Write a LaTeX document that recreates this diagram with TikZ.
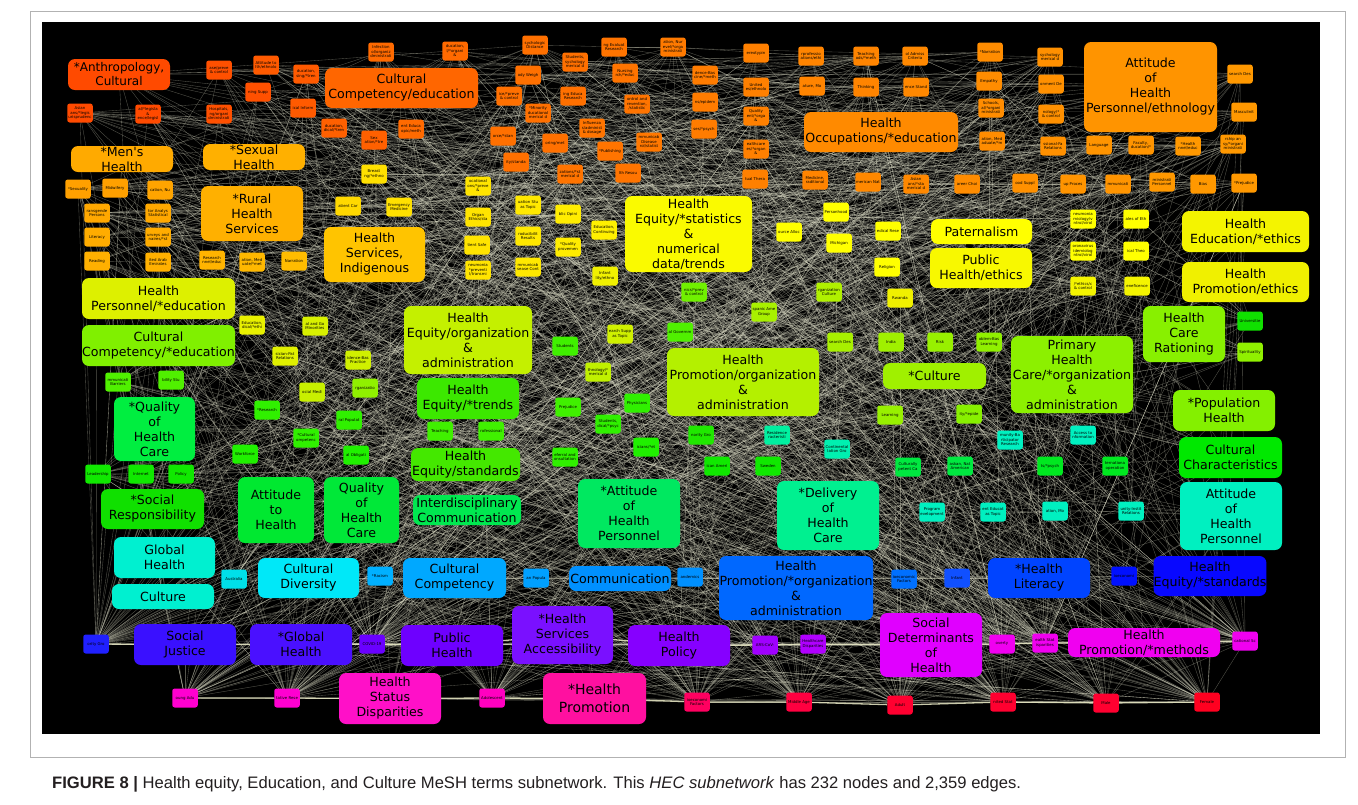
\documentclass[tikz,border=0pt]{standalone}
\usepackage{fontspec}
\newfontfamily\nodefont{DejaVu Sans}
\newfontfamily\capfont{Liberation Sans}
\pgfdeclarelayer{bgl}\pgfdeclarelayer{edl}
\pgfsetlayers{bgl,edl,main}
\newcounter{nd}
\definecolor{edgec}{RGB}{228,228,205}
\definecolor{chainc}{RGB}{225,225,190}
\definecolor{capc}{RGB}{35,31,32}
\tikzset{
 sm/.style={rounded corners=2.5pt, minimum width=25.5pt, minimum height=19pt, inner sep=0.3pt, align=center, font=\nodefont\fontsize{3.9}{4.5}\selectfont, text=black},
 big/.style={rounded corners=7pt, inner sep=0pt, align=center, font=\nodefont\fontsize{12.6}{15}\selectfont, text=black},
 edge/.style={draw=edgec, draw opacity=0.38, line width=0.35pt},
 chainln/.style={draw=chainc, line width=1.3pt, draw opacity=0.9},
}
\newcommand\SN[5]{\stepcounter{nd}\edef\ndn{n\arabic{nd}}\definecolor{tmpc}{HTML}{#4}%
 \node[sm, fill=tmpc, alias=\ndn] (#1) at (#2,#3) {#5};}
\newcommand\BN[8][]{\stepcounter{nd}\edef\ndn{n\arabic{nd}}\definecolor{tmpc}{HTML}{#7}%
 \pgfmathsetmacro\cx{(#3+#5)/2}\pgfmathsetmacro\cy{(#4+#6)/2}%
 \pgfmathsetmacro\ww{#5-#3}\pgfmathsetmacro\hh{#6-#4}%
 \node[big, fill=tmpc, minimum width=\ww pt, minimum height=\hh pt, alias=\ndn, #1] (#2) at (\cx,\cy) {#8};}
\begin{document}
\begin{tikzpicture}[x=1pt,y=-1pt]
\useasboundingbox (0,0) rectangle (1358,804);
\begin{pgfonlayer}{bgl}
\fill[white] (0,0) rectangle (1358,804);
\draw[black!30, line width=0.8pt] (30,11) rectangle (1345,757);
\fill[black] (42,22) rectangle (1320,734);
\end{pgfonlayer}
% ---------- small nodes ----------
\SN{s1}{219}{70}{FF5000}{ase/preve\\\& control}
\SN{s2}{266}{65}{FF5A00}{Attitude to\\lth/ethnolo}
\SN{s3}{306}{74}{FF5A00}{ducation,\\sing/*tren}
\SN{s4}{258}{92}{FF5000}{ning Supp}
\SN{s5}{80}{113}{FF4A00}{Asian\\ans/*legis\\urisprudenc}
\SN{s6}{148}{114}{FF4A00}{al/*legisla\\\&\\ence/legisl}
\SN{s7}{219}{114}{FF5000}{Hospitals,\\ng/organi\\dministrati}
\SN{s8}{303}{108}{FF5A00}{ical Inform}
\SN{s9}{334}{128}{FF6000}{ducation,\\dical/*tren}
\SN{s10}{374}{140}{FF6000}{Sex\\ation/*tre}
\SN{s11}{381}{52}{FF6A00}{Infection\\ol/organiz\\dministrati}
\SN{s12}{455}{51}{FF6A00}{ducation,\\l/*organi\\\&}
\SN{s13}{535}{45}{FF7000}{sychologic\\Distance}
\SN{s14}{528}{75}{FF7000}{ody Weigh}
\SN{s15}{575}{62}{FF7000}{Students,\\sychology\\merical d}
\SN{s16}{614}{47}{FF7400}{ng Evaluat\\Research}
\SN{s17}{673}{47}{FF7A00}{ation, Nur\\evel/*orga\\ministrati}
\SN{s18}{625}{73}{FF7400}{Nursing\\rch/*educ}
\SN{s19}{509}{96}{FF7000}{ice/*preve\\\& control}
\SN{s20}{538}{113}{FF7000}{*Minority\\ducational\\merical d}
\SN{s21}{573}{96}{FF7000}{ing Educa\\Research}
\SN{s22}{637}{104}{FF7400}{ontrol and\\revention,\\/statistic}
\SN{s23}{411}{129}{FF6A00}{ent Educa\\opic/meth}
\SN{s24}{592}{128}{FF7400}{Influenza\\s/administ\\\& dosage}
\SN{s25}{503}{136}{FF7000}{orce/*stan}
\SN{s26}{555}{143}{FF7000}{oring/met}
\SN{s27}{649}{142}{FF7800}{mmunicab\\Disease\\rol/statist}
\SN{s28}{610}{151}{FF7400}{*Publishing}
\SN{s29}{516}{162}{FF7000}{ity/standa}
\SN{s30}{570}{174}{FF7400}{zations/*st\\merical d}
\SN{s31}{628}{173}{FF7400}{lth Resou}
\SN{s32}{756}{53}{FF8000}{ereotypin}
\SN{s33}{811}{56}{FF8400}{rprofessio\\ations/ethi}
\SN{s34}{866}{56}{FF8400}{Teaching\\ods/*meth}
\SN{s35}{915}{56}{FF8800}{ol Admiss\\Criteria}
\SN{s36}{990}{52}{FF8C00}{*Narration}
\SN{s37}{705}{75}{FF7C00}{dence-Bas\\cine/*meth}
\SN{s38}{756}{87}{FF8000}{United\\es/ethnolo}
\SN{s39}{812}{86}{FF8400}{ature, Mo}
\SN{s40}{866}{87}{FF8400}{Thinking}
\SN{s41}{916}{87}{FF8800}{ence Stand}
\SN{s42}{989}{81}{FF8C00}{Empathy}
\SN{s43}{705}{102}{FF7C00}{ns/epidem}
\SN{s44}{756}{116}{FF8000}{Quality\\ent/*orga\\\&}
\SN{s45}{991}{108}{FF8C00}{Schools,\\al/*organi\\ministrati}
\SN{s46}{704}{129}{FF7C00}{ses/*psych}
\SN{s47}{756}{149}{FF8000}{ealthcare\\es/*organ\\\&}
\SN{s48}{992}{141}{FF8C00}{ation, Med\\aduate/*m}
\SN{s49}{755}{179}{FF8000}{tual Thera}
\SN{s50}{815}{180}{FF8400}{Medicine,\\raditional}
\SN{s51}{868}{182}{FF8800}{merican Nat}
\SN{s52}{916}{184}{FF8800}{Asian\\ans/*sta\\merical d}
\SN{s53}{967}{184}{FF8C00}{areer Choi}
\SN{s54}{1050}{57}{FF9000}{sychology\\merical d}
\SN{s55}{1051}{84}{FF9000}{onment De}
\SN{s56}{1051}{114}{FF9000}{nology/*\\\& control}
\SN{s57}{1053}{146}{FF9000}{ssional-Fa\\Relations}
\SN{s58}{1240}{74}{FF9800}{search Des}
\SN{s59}{1244}{112}{FF9800}{Masculinit}
\SN{s60}{1099}{145}{FF9400}{Language}
\SN{s61}{1141}{145}{FF9400}{Faculty,\\ducation/*}
\SN{s62}{1188}{146}{FF9800}{*Health\\nnel/educ}
\SN{s63}{1233}{144}{FF9800}{rship an\\sy/*organi\\ministrati}
\SN{s64}{1025}{183}{FF9000}{ood Suppl}
\SN{s65}{1073}{184}{FF9400}{up Proces}
\SN{s66}{1118}{184}{FF9400}{mmunicati}
\SN{s67}{1162}{182}{FF9800}{ministrati\\Personnel}
\SN{s68}{1203}{184}{FF9800}{Bias}
\SN{s69}{1244}{183}{FF9800}{*Prejudice}
\SN{s70}{78}{189}{FFA000}{*Sexuality}
\SN{s71}{115}{188}{FFA000}{Midwifery}
\SN{s72}{160}{190}{FFA400}{cation, Nu}
\SN{s73}{97}{213}{FFA800}{ransgende\\Persons}
\SN{s74}{158}{213}{FFA800}{tor Analys\\Statistical}
\SN{s75}{97}{237}{FFAC00}{Literacy}
\SN{s76}{158}{237}{FFAC00}{urveys and\\naires/*st}
\SN{s77}{97}{261}{FFB000}{Reading}
\SN{s78}{158}{262}{FFB000}{ited Arab\\Emirates}
\SN{s79}{212}{260}{FFB400}{Research\\nnel/educ}
\SN{s80}{252}{262}{FFB800}{ation, Med\\uate/*met}
\SN{s81}{294}{261}{FFBC00}{Narration}
\SN{s82}{348}{206}{FFD800}{atient Car}
\SN{s83}{374}{174}{FFE000}{Breast\\ng/*ethno}
\SN{s84}{399}{207}{FFE000}{Emergency\\Medicine}
\SN{s85}{478}{186}{FFE400}{ocational\\ons/*preve\\\&}
\SN{s86}{528}{205}{FFE800}{uation Stu\\as Topic}
\SN{s87}{568}{214}{FFEC00}{blic Opini}
\SN{s88}{478}{217}{FFE400}{Organ\\Ethics/sta}
\SN{s89}{604}{230}{FFF000}{Education,\\Continuing}
\SN{s90}{528}{236}{FFE800}{roducibilit\\Results}
\SN{s91}{568}{247}{FFEC00}{*Quality\\provemen}
\SN{s92}{477}{245}{FFE400}{tient Safe}
\SN{s93}{478}{270}{FFE400}{neumonia\\*preventi\\l/transmi}
\SN{s94}{528}{267}{FFE800}{mmunicab\\sease Cont}
\SN{s95}{605}{276}{F0F000}{Infant\\lity/ethno}
\SN{s96}{836}{212}{FFFF00}{Personhood}
\SN{s97}{789}{232}{FFFF00}{ource Alloc}
\SN{s98}{839}{243}{FFFF00}{Michigan}
\SN{s99}{888}{231}{FFFF00}{edical Rese}
\SN{s100}{887}{267}{FFFF00}{Religion}
\SN{s101}{1083}{219}{FFFF00}{neumonia\\miology/v\\ntrol/virol}
\SN{s102}{1083}{251}{FFFF00}{oronavirus\\idemiolog\\ntrol/virol}
\SN{s103}{1136}{219}{FFFF00}{ales of Eth}
\SN{s104}{1136}{251}{FFFF00}{ical Theo}
\SN{s105}{1083}{286}{F4F400}{/*ethics/c\\\& control}
\SN{s106}{1137}{286}{F4F400}{eneficence}
\SN{s107}{900}{298}{F0F000}{Rwanda}
\SN{s108}{252}{325}{E8F000}{Education,\\dical/*ethi}
\SN{s109}{315}{326}{D8F000}{al and Go\\Minorities}
\SN{s110}{285}{356}{E0F000}{sician-Pat\\Relations}
\SN{s111}{358}{360}{D0F000}{idence-Bas\\Practice}
\SN{s112}{312}{392}{C8F000}{ocial Medi}
\SN{s113}{365}{388}{90F000}{rganizatio}
\SN{s114}{620}{334}{D0F000}{earch Supp\\as Topic}
\SN{s115}{598}{372}{C0F000}{thnology/*\\merical d}
\SN{s116}{829}{292}{B0F000}{rganization\\Culture}
\SN{s117}{764}{312}{A8F000}{spanic Ame\\Group}
\SN{s118}{694}{292}{70F000}{nics/*prev\\\& control}
\SN{s119}{680}{332}{50F000}{al Governm}
\SN{s120}{840}{342}{A8F000}{search Des}
\SN{s121}{891}{342}{A0F000}{India}
\SN{s122}{940}{342}{98F000}{Risk}
\SN{s123}{989}{342}{90F000}{oblem-Bas\\Learning}
\SN{s124}{890}{415}{98F000}{Learning}
\SN{s125}{969}{414}{88F000}{ity/*epide}
\SN{s126}{1250}{321}{10E000}{Universitie}
\SN{s127}{1250}{352}{90F000}{Spirituality}
\SN{s128}{118}{382}{50F000}{mmunicati\\Barriers}
\SN{s129}{171}{380}{50F000}{bility Stu}
\SN{s130}{267}{410}{30F000}{*Research}
\SN{s131}{349}{420}{30F000}{ral Populat}
\SN{s132}{306}{438}{30F000}{*Cultural\\ompetenc}
\SN{s133}{245}{454}{20F000}{Workforce}
\SN{s134}{356}{455}{20F000}{al Obligati}
\SN{s135}{98}{474}{10E800}{Leadership}
\SN{s136}{141}{474}{10E800}{Internet}
\SN{s137}{181}{474}{10E800}{Policy}
\SN{s138}{565}{346}{40F000}{Students}
\SN{s139}{568}{407}{40F000}{Prejudice}
\SN{s140}{637}{403}{30F000}{Physicians}
\SN{s141}{608}{424}{30F000}{Students,\\dical/*psyc}
\SN{s142}{440}{431}{40F000}{Teaching}
\SN{s143}{491}{431}{40F000}{rofessional}
\SN{s144}{565}{457}{30F000}{eferral and\\onsultation}
\SN{s145}{646}{447}{20F000}{icians/*et}
\SN{s146}{701}{435}{20E800}{nority Gro}
\SN{s147}{777}{435}{00F0A0}{Residence\\racteristi}
\SN{s148}{837}{449}{00F0B0}{Continental\\lation Gro}
\SN{s149}{717}{466}{10E800}{ican Ameri}
\SN{s150}{768}{466}{10E800}{Sweden}
\SN{s151}{908}{467}{00E840}{Culturally\\petent Ca}
\SN{s152}{960}{466}{00E840}{askan, Nat\\American}
\SN{s153}{1010}{440}{00F0C0}{munity-Ba\\rticipator\\Research}
\SN{s154}{1083}{435}{00F0C0}{Access to\\nformation}
\SN{s155}{1050}{466}{00E820}{ts/*psych}
\SN{s156}{1115}{466}{00E820}{ternationa\\operation}
\SN{s157}{932}{512}{00F0C0}{Program\\evelopment}
\SN{s158}{993}{512}{00F0C0}{ent Educat\\as Topic}
\SN{s159}{1055}{511}{00F0C0}{ation, Mo}
\SN{s160}{1131}{511}{00F0C0}{unity-Instit\\Relations}
\SN{s161}{234}{579}{00E0E8}{Australia}
\SN{s162}{380}{576}{00B0FF}{*Racism}
\SN{s163}{536}{578}{00A0FF}{an Popula}
\SN{s164}{690}{577}{0090FF}{andemics}
\SN{s165}{904}{579}{0070FF}{ioeconomic\\Factors}
\SN{s166}{957}{578}{1050FF}{Infant}
\SN{s167}{1124}{576}{0010FF}{ioeconomi}
\SN{s168}{96}{644}{2020FF}{ority Gro}
\SN{s169}{372}{644}{6A00FF}{COVID-19}
\SN{s170}{765}{645}{A000FF}{ARS-CoV-}
\SN{s171}{813}{644}{B000FF}{Healthcare\\Disparities}
\SN{s172}{1002}{644}{F000F0}{overty}
\SN{s173}{1045}{643}{F000F0}{ealth Stat\\isparities}
\SN{s174}{1245}{641}{F000F0}{cational Sc}
\SN{s175}{185}{698}{FF00D0}{oung Adu}
\SN{s176}{287}{698}{FF00D0}{tative Rese}
\SN{s177}{492}{698}{FF00C0}{Adolescent}
\SN{s178}{697}{702}{FF0060}{ioeconomi\\Factors}
\SN{s179}{799}{702}{FF0040}{Middle Age}
\SN{s180}{900}{705}{FF0030}{Adult}
\SN{s181}{1003}{702}{FF0030}{nited Stat}
\SN{s182}{1106}{703}{FF0030}{Male}
\SN{s183}{1207}{702}{FF0020}{Female}
% ---------- big nodes ----------
\BN[font=\nodefont\fontsize{12}{14}\selectfont]{b1}{68}{59}{170}{90}{FF4A00}{*Anthropology,\\Cultural}
\BN{b2}{325}{68}{478}{108}{FF6600}{Cultural\\Competency/education}
\BN{b3}{804}{112}{958}{152}{FF8A00}{Health\\Occupations/*education}
\BN{b4}{1084}{42}{1217}{132}{FF9400}{Attitude\\of\\Health\\Personnel/ethnology}
\BN{b5}{71}{146}{173}{172}{FFAA00}{*Men's\\Health}
\BN{b6}{203}{144}{305}{170}{FFB000}{*Sexual\\Health}
\BN{b7}{201}{186}{303}{241}{FFB000}{*Rural\\Health\\Services}
\BN{b8}{324}{227}{425}{282}{FFC400}{Health\\Services,\\Indigenous}
\BN{b9}{625}{196}{752}{272}{FAFA00}{Health\\Equity/*statistics\\\&\\numerical\\data/trends}
\BN{b10}{931}{219}{1032}{244}{FFFF00}{Paternalism}
\BN{b11}{930}{248}{1032}{288}{F8F800}{Public\\Health/ethics}
\BN{b12}{1182}{211}{1309}{252}{F4F400}{Health\\Education/*ethics}
\BN{b13}{1182}{262}{1309}{302}{F0F000}{Health\\Promotion/ethics}
\BN{b14}{82}{278}{235}{319}{DDF000}{Health\\Personnel/*education}
\BN{b15}{82}{325}{235}{366}{80F000}{Cultural\\Competency/*education}
\BN{b16}{404}{306}{532}{374}{C4F000}{Health\\Equity/organization\\\&\\administration}
\BN{b17}{667}{348}{819}{416}{B4F000}{Health\\Promotion/organization\\\&\\administration}
\BN{b18}{1011}{336}{1133}{413}{8CF000}{Primary\\Health\\Care/*organization\\\&\\administration}
\BN{b19}{1143}{306}{1225}{362}{88F000}{Health\\Care\\Rationing}
\BN{b20}{883}{363}{986}{389}{A0F000}{*Culture}
\BN{b21}{1173}{390}{1275}{431}{84F000}{*Population\\Health}
\BN{b22}{417}{378}{519}{419}{3CE800}{Health\\Equity/*trends}
\BN{b23}{411}{448}{520}{481}{44E800}{Health\\Equity/standards}
\BN{b24}{114}{397}{195}{461}{00EE40}{*Quality\\of\\Health\\Care}
\BN{b25}{101}{489}{204}{529}{10E000}{*Social\\Responsibility}
\BN{b26}{238}{477}{314}{543}{00E830}{Attitude\\to\\Health}
\BN{b27}{324}{477}{399}{543}{00E838}{Quality\\of\\Health\\Care}
\BN{b28}{413}{495}{521}{525}{00E850}{Interdisciplinary\\Communication}
\BN{b29}{578}{479}{680}{548}{00E860}{*Attitude\\of\\Health\\Personnel}
\BN{b30}{777}{481}{879}{550}{00F090}{*Delivery\\of\\Health\\Care}
\BN{b31}{1179}{437}{1282}{478}{00E800}{Cultural\\Characteristics}
\BN{b32}{1180}{482}{1282}{550}{00F0C0}{Attitude\\of\\Health\\Personnel}
\BN{b33}{114}{537}{215}{578}{00F0D0}{Global\\Health}
\BN{b34}{112}{584}{214}{609}{00F0D0}{Culture}
\BN{b35}{258}{558}{359}{598}{00E8F8}{Cultural\\Diversity}
\BN{b36}{403}{558}{506}{598}{00A8FF}{Cultural\\Competency}
\BN{b37}{569}{566}{671}{591}{0090FF}{Communication}
\BN{b38}{719}{556}{873}{620}{0068FF}{Health\\Promotion/*organization\\\&\\administration}
\BN{b39}{988}{558}{1090}{598}{0044FF}{*Health\\Literacy}
\BN{b40}{1159}{556}{1261}{596}{0808FF}{Health\\Equity/*standards}
\BN{b41}{134}{624}{236}{665}{3A10FF}{Social\\Justice}
\BN{b42}{250}{624}{352}{665}{4A10FF}{*Global\\Health}
\BN{b43}{401}{625}{503}{666}{6E00FF}{Public\\Health}
\BN{b44}{512}{606}{613}{664}{7A10FF}{*Health\\Services\\Accessibility}
\BN{b45}{628}{625}{730}{666}{8600FF}{Health\\Policy}
\BN{b46}{880}{613}{982}{677}{E000FF}{Social\\Determinants\\of\\Health}
\BN{b47}{1068}{628}{1220}{657}{F000F0}{Health\\Promotion/*methods}
\BN{b48}{339}{673}{441}{724}{FF10C8}{Health\\Status\\Disparities}
\BN[font=\nodefont\fontsize{14}{18}\selectfont]{b49}{543}{673}{646}{724}{FF10A0}{*Health\\Promotion}
\edef\NN{\arabic{nd}}
% ---------- connectors ----------
\begin{pgfonlayer}{edl}
\pgfmathsetseed{4711}
\foreach \k in {1,...,1750}{%
  \pgfmathrandominteger{\a}{1}{\NN}%
  \pgfmathrandominteger{\b}{1}{\NN}%
  \draw[edge] (n\a.center) -- (n\b.center);
}
\foreach \h in {175,176,177,178,179,180,181,182,183,168,174,172,173,169}{%
  \foreach \k in {1,...,40}{%
    \pgfmathrandominteger{\b}{1}{\NN}%
    \draw[edge] (s\h.center) -- (n\b.center);
  }
}
\draw[chainln] (s175) -- (s176) -- (b48) -- (s177) -- (b49) -- (s178) -- (s179) -- (s180) -- (s181) -- (s182) -- (s183);
\draw[chainln] (s168) -- (b41) -- (b42) -- (s169) -- (b43) -- (b44) -- (b45) -- (s170) -- (s171) -- (b46) -- (s172) -- (s173) -- (b47) -- (s174);
\end{pgfonlayer}
% ---------- caption ----------
\node[anchor=base west, inner sep=0pt, text=capc, font=\capfont\fontsize{16.6}{19}\selectfont] (cap) at (52,788)
 {\textbf{FIGURE 8 |} Health equity, Education, and Culture MeSH terms subnetwork. This \textit{HEC subnetwork} has 232 nodes and 2,359 edges.};
\end{tikzpicture}
\end{document}
